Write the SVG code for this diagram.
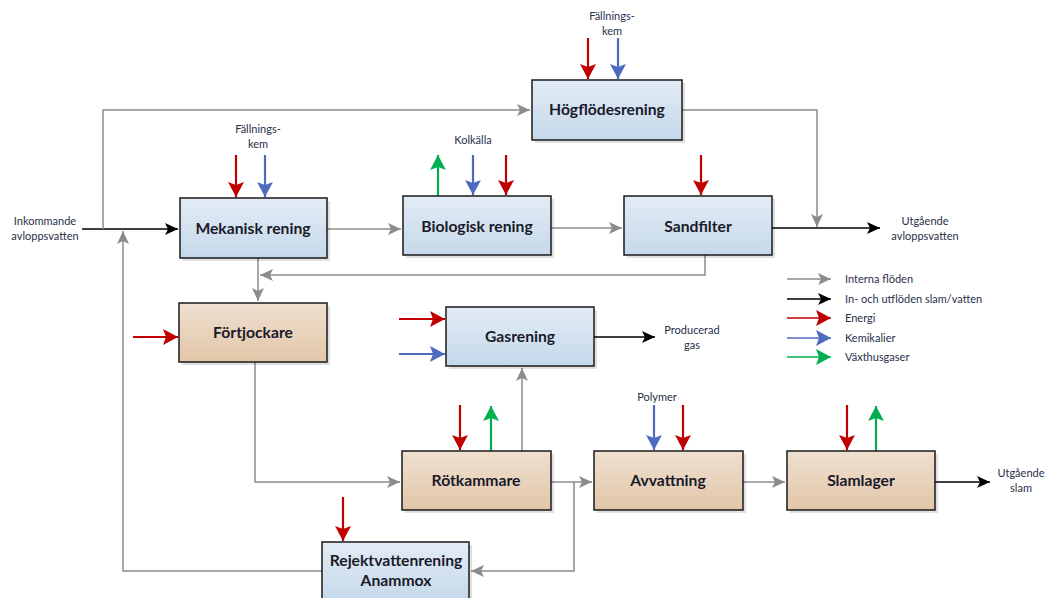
<svg xmlns="http://www.w3.org/2000/svg" width="1048" height="598" viewBox="0 0 1048 598">
  <defs>
    <linearGradient id="gBlue" x1="0" y1="0" x2="0" y2="1">
      <stop offset="0" stop-color="#e3ecf6"/>
      <stop offset="1" stop-color="#c5d8ea"/>
    </linearGradient>
    <linearGradient id="gTan" x1="0" y1="0" x2="0" y2="1">
      <stop offset="0" stop-color="#efe0d0"/>
      <stop offset="1" stop-color="#e2c6a8"/>
    </linearGradient>
    <marker id="mGray" markerUnits="userSpaceOnUse" markerWidth="14" markerHeight="12" refX="13" refY="6" orient="auto">
      <path d="M0,0 L13,6 L0,12 L3,6 Z" fill="#8c8c8c"/>
    </marker>
    <marker id="mBlack" markerUnits="userSpaceOnUse" markerWidth="14" markerHeight="12" refX="13" refY="6" orient="auto">
      <path d="M0,0 L13,6 L0,12 L3,6 Z" fill="#000"/>
    </marker>
    <marker id="mRed" markerUnits="userSpaceOnUse" markerWidth="16" markerHeight="16" refX="15" refY="8" orient="auto">
      <path d="M0,0 L15,8 L0,16 L3,8 Z" fill="#c00000"/>
    </marker>
    <marker id="mBlue" markerUnits="userSpaceOnUse" markerWidth="16" markerHeight="16" refX="15" refY="8" orient="auto">
      <path d="M0,0 L15,8 L0,16 L3,8 Z" fill="#4f6bbf"/>
    </marker>
    <marker id="mGreen" markerUnits="userSpaceOnUse" markerWidth="16" markerHeight="16" refX="15" refY="8" orient="auto">
      <path d="M0,0 L15,8 L0,16 L3,8 Z" fill="#00b050"/>
    </marker>
  </defs>
  <style>
    .box { stroke: #1a1a1a; stroke-width: 1.5; }
    .blue { fill: url(#gBlue); }
    .tan { fill: url(#gTan); }
    .shadow { fill: #000; opacity: 0.12; }
    .title { font-family: Lato, "Open Sans", "Liberation Sans", sans-serif; font-weight: bold; font-size: 15.7px; fill: #1a1a2a; text-anchor: middle; }
    .lbl { font-family: Lato, "Open Sans", "Liberation Sans", sans-serif; font-size: 11px; fill: #27304a; text-anchor: middle; }
    .leg { font-family: Lato, "Open Sans", "Liberation Sans", sans-serif; font-size: 11px; fill: #27304a; }
    .gray { stroke: #8c8c8c; stroke-width: 1.5; fill: none; }
    .black { stroke: #000; stroke-width: 1.5; fill: none; }
    .red { stroke: #c00000; stroke-width: 2.2; fill: none; }
    .bl { stroke: #4f6bbf; stroke-width: 2.2; fill: none; }
    .grn { stroke: #00b050; stroke-width: 2.2; fill: none; }
  </style>

  <g id="connectors">
    <!-- main water line -->
    <path class="black" d="M82,229 H178" marker-end="url(#mBlack)"/>
    <path class="gray" d="M103,229 V110 H530" marker-end="url(#mGray)"/>
    <path class="gray" d="M327,229 H401" marker-end="url(#mGray)"/>
    <path class="gray" d="M551,228 H622" marker-end="url(#mGray)"/>
    <path class="gray" d="M682,110 H817 V227" marker-end="url(#mGray)"/>
    <path class="black" d="M772,228 H880" marker-end="url(#mBlack)"/>
    <!-- sludge returns -->
    <path class="gray" d="M705,255 V275 H260" marker-end="url(#mGray)"/>
    <path class="gray" d="M258,258 V301" marker-end="url(#mGray)"/>
    <path class="gray" d="M255,362 V482 H400" marker-end="url(#mGray)"/>
    <path class="gray" d="M522,451 V368" marker-end="url(#mGray)"/>
    <path class="black" d="M594,337 H655" marker-end="url(#mBlack)"/>
    <path class="gray" d="M551,482 H592" marker-end="url(#mGray)"/>
    <path class="gray" d="M743,482 H785" marker-end="url(#mGray)"/>
    <path class="black" d="M935,482 H990" marker-end="url(#mBlack)"/>
    <path class="gray" d="M574,482 V571 H471" marker-end="url(#mGray)"/>
    <path class="gray" d="M322,571 H123 V231" marker-end="url(#mGray)"/>

    <!-- energy, chemicals, greenhouse gases -->
    <path class="red" d="M588,38 V79" marker-end="url(#mRed)"/>
    <path class="bl" d="M618,38 V79" marker-end="url(#mBlue)"/>
    <path class="red" d="M236,155 V197" marker-end="url(#mRed)"/>
    <path class="bl" d="M265,155 V197" marker-end="url(#mBlue)"/>
    <path class="grn" d="M438,196 V155" marker-end="url(#mGreen)"/>
    <path class="bl" d="M473,155 V195" marker-end="url(#mBlue)"/>
    <path class="red" d="M506,155 V195" marker-end="url(#mRed)"/>
    <path class="red" d="M701,155 V195" marker-end="url(#mRed)"/>
    <path class="red" d="M133,337 H178" marker-end="url(#mRed)"/>
    <path class="red" d="M399,319 H445" marker-end="url(#mRed)"/>
    <path class="bl" d="M399,354 H445" marker-end="url(#mBlue)"/>
    <path class="red" d="M460,405 V450" marker-end="url(#mRed)"/>
    <path class="grn" d="M491,451 V406" marker-end="url(#mGreen)"/>
    <path class="bl" d="M654,405 V450" marker-end="url(#mBlue)"/>
    <path class="red" d="M683,405 V450" marker-end="url(#mRed)"/>
    <path class="red" d="M847,405 V450" marker-end="url(#mRed)"/>
    <path class="grn" d="M876,451 V406" marker-end="url(#mGreen)"/>
    <path class="red" d="M343,497 V541" marker-end="url(#mRed)"/>
  </g>

  <g id="hogflodesrening">
    <rect class="shadow" x="535" y="83" width="150" height="60"/>
    <rect class="box blue" x="532" y="80" width="150" height="60"/>
    <text class="title" x="607" y="115">Högflödesrening</text>
  </g>
  <g id="mekanisk">
    <rect class="shadow" x="183" y="201" width="147" height="60"/>
    <rect class="box blue" x="180" y="198" width="147" height="60"/>
    <text class="title" x="253" y="234">Mekanisk rening</text>
  </g>
  <g id="biologisk">
    <rect class="shadow" x="406" y="199" width="148" height="59"/>
    <rect class="box blue" x="403" y="196" width="148" height="59"/>
    <text class="title" x="477" y="232">Biologisk rening</text>
  </g>
  <g id="sandfilter">
    <rect class="shadow" x="627" y="199" width="148" height="59"/>
    <rect class="box blue" x="624" y="196" width="148" height="59"/>
    <text class="title" x="698" y="232">Sandfilter</text>
  </g>
  <g id="fortjockare">
    <rect class="shadow" x="182" y="306" width="148" height="59"/>
    <rect class="box tan" x="179" y="303" width="148" height="59"/>
    <text class="title" x="253" y="338">Förtjockare</text>
  </g>
  <g id="gasrening">
    <rect class="shadow" x="449" y="310" width="148" height="59"/>
    <rect class="box blue" x="446" y="307" width="148" height="59"/>
    <text class="title" x="520" y="342">Gasrening</text>
  </g>
  <g id="rotkammare">
    <rect class="shadow" x="405" y="454" width="149" height="59"/>
    <rect class="box tan" x="402" y="451" width="149" height="59"/>
    <text class="title" x="476" y="486">Rötkammare</text>
  </g>
  <g id="avvattning">
    <rect class="shadow" x="597" y="454" width="149" height="59"/>
    <rect class="box tan" x="594" y="451" width="149" height="59"/>
    <text class="title" x="668" y="486">Avvattning</text>
  </g>
  <g id="slamlager">
    <rect class="shadow" x="790" y="454" width="148" height="59"/>
    <rect class="box tan" x="787" y="451" width="148" height="59"/>
    <text class="title" x="861" y="486">Slamlager</text>
  </g>
  <g id="rejektvatten">
    <rect class="shadow" x="325" y="545" width="147" height="60"/>
    <rect class="box blue" x="322" y="542" width="147" height="60"/>
    <text class="title" x="396" y="566">Rejektvattenrening</text>
    <text class="title" x="396" y="586">Anammox</text>
  </g>

  <g id="labels">
    <text class="lbl" x="612" y="20">Fällnings-</text>
    <text class="lbl" x="612" y="35">kem</text>
    <text class="lbl" x="258" y="133">Fällnings-</text>
    <text class="lbl" x="258" y="148">kem</text>
    <text class="lbl" x="473" y="144">Kolkälla</text>
    <text class="lbl" x="45" y="225">Inkommande</text>
    <text class="lbl" x="45" y="240">avloppsvatten</text>
    <text class="lbl" x="925" y="225">Utgående</text>
    <text class="lbl" x="925" y="240">avloppsvatten</text>
    <text class="lbl" x="692" y="334">Producerad</text>
    <text class="lbl" x="692" y="349">gas</text>
    <text class="lbl" x="657" y="401">Polymer</text>
    <text class="lbl" x="1021" y="477">Utgående</text>
    <text class="lbl" x="1021" y="492">slam</text>
  </g>

  <g id="legend">
    <path class="gray" d="M787,279 H831" marker-end="url(#mGray)"/>
    <path class="black" d="M787,299 H831" marker-end="url(#mBlack)"/>
    <path class="red" style="stroke-width:1.5" d="M787,318 H831" marker-end="url(#mRed)"/>
    <path class="bl" style="stroke-width:1.5" d="M787,338 H831" marker-end="url(#mBlue)"/>
    <path class="grn" style="stroke-width:1.5" d="M787,357 H831" marker-end="url(#mGreen)"/>
    <text class="leg" x="845" y="283">Interna flöden</text>
    <text class="leg" x="845" y="303">In- och utflöden slam/vatten</text>
    <text class="leg" x="845" y="322">Energi</text>
    <text class="leg" x="845" y="342">Kemikalier</text>
    <text class="leg" x="845" y="361">Växthusgaser</text>
  </g>
</svg>
